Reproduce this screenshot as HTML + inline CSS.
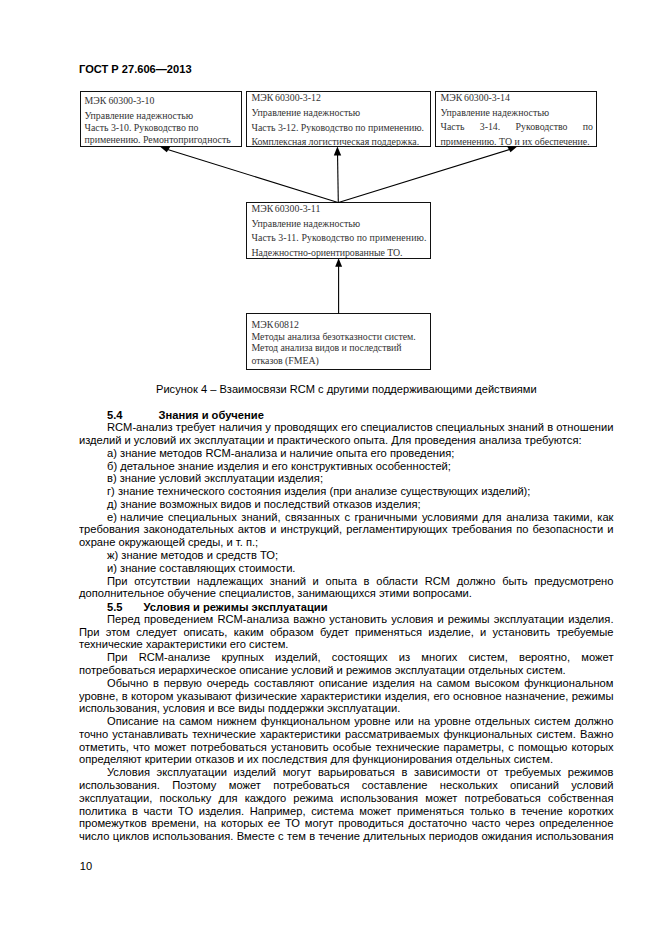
<!DOCTYPE html>
<html><head><meta charset="utf-8">
<style>
html,body{margin:0;padding:0;background:#fff;}
body{width:661px;height:936px;position:relative;overflow:hidden;}
.s{font-family:"Liberation Sans",sans-serif;color:#000;}
.hdr{position:absolute;left:79px;top:63px;font-size:11.1px;font-weight:bold;line-height:12.76px;white-space:nowrap;}
.box{position:absolute;border:1.2px solid #111;box-sizing:border-box;}
.bt{position:absolute;font-family:"Liberation Serif",serif;font-size:9.85px;color:#333;white-space:nowrap;line-height:12px;}
.cap{position:absolute;left:156px;top:382.5px;font-size:11.1px;line-height:12.76px;white-space:nowrap;}
.body{position:absolute;left:79px;top:408.4px;width:534.5px;font-size:11.17px;line-height:12.79px;}
.body div{white-space:nowrap;height:12.79px;}
.body .j{text-align:justify;text-align-last:justify;white-space:nowrap;overflow:hidden;}
.body .i{padding-left:28px;}
.b{font-weight:bold;position:relative;top:0.4px;}
.pg{position:absolute;left:79.8px;top:859.5px;font-size:11.1px;line-height:12.76px;}
</style></head><body>
<div class="s hdr">ГОСТ Р 27.606—2013</div>

<div class="box" style="left:80px;top:91px;width:161.5px;height:56px;"></div>
<div class="box" style="left:246px;top:91px;width:185px;height:56px;"></div>
<div class="box" style="left:435px;top:91px;width:162px;height:56px;"></div>
<div class="box" style="left:246px;top:202px;width:185px;height:57px;"></div>
<div class="box" style="left:246px;top:313px;width:185px;height:57px;"></div>

<svg style="position:absolute;left:0;top:0" width="661" height="400">
<g stroke="#000" stroke-width="1.1" fill="none">
<line x1="338" y1="202.5" x2="166" y2="149"/>
<line x1="338.3" y1="202.5" x2="337.5" y2="152"/>
<line x1="338.5" y1="202.5" x2="511" y2="149"/>
<line x1="338.6" y1="313.5" x2="338.6" y2="264"/>
</g>
<g fill="#000">
<polygon points="159.5,146.2 170.5,146.2 166.8,152.2"/>
<polygon points="337.4,146.6 333.8,155.6 341.2,155.6"/>
<polygon points="517.5,146.2 507,146.2 510.5,152.2"/>
<polygon points="338.6,258.3 335.2,266.8 342.1,266.8"/>
</g>
</svg>

<div class="bt" style="left:84.5px;top:94.9px;word-spacing:-0.4px;">МЭК 60300-3-10</div>
<div class="bt" style="left:84.5px;top:109.9px;">Управление надежностью</div>
<div class="bt" style="left:84.5px;top:122.2px;">Часть 3-10. Руководство по</div>
<div class="bt" style="left:84.5px;top:134.1px;">применению. Ремонтопригодность</div>

<div class="bt" style="left:251.5px;top:91.9px;word-spacing:-0.8px;">МЭК 60300-3-12</div>
<div class="bt" style="left:251.5px;top:106.9px;">Управление надежностью</div>
<div class="bt" style="left:251.5px;top:121.8px;">Часть 3-12. Руководство по применению.</div>
<div class="bt" style="left:251.5px;top:135.8px;">Комплексная логистическая поддержка.</div>

<div class="bt" style="left:440.5px;top:91.9px;word-spacing:-0.8px;">МЭК 60300-3-14</div>
<div class="bt" style="left:440.5px;top:107.1px;">Управление надежностью</div>
<div class="bt" style="left:440.5px;top:120.9px;width:152.5px;text-align:justify;text-align-last:justify;white-space:nowrap;">Часть 3-14. Руководство по</div>
<div class="bt" style="left:440.5px;top:135.9px;">применению. ТО и их обеспечение.</div>

<div class="bt" style="left:251.5px;top:202.9px;word-spacing:-1px;">МЭК 60300-3-11</div>
<div class="bt" style="left:251.5px;top:217.9px;">Управление надежностью</div>
<div class="bt" style="left:251.5px;top:232.4px;letter-spacing:0.074px;">Часть 3-11. Руководство по применению.</div>
<div class="bt" style="left:251.5px;top:246.9px;letter-spacing:-0.055px;">Надежностно-ориентированные ТО.</div>

<div class="bt" style="left:251.5px;top:318.9px;word-spacing:-1.5px;">МЭК 60812</div>
<div class="bt" style="left:251.5px;top:330.9px;">Методы анализа безотказности систем.</div>
<div class="bt" style="left:251.5px;top:342.3px;letter-spacing:-0.055px;">Метод анализа видов и последствий</div>
<div class="bt" style="left:251.5px;top:355px;letter-spacing:-0.05px;">отказов (FMEA)</div>

<div class="s cap">Рисунок 4 – Взаимосвязи RCM с другими поддерживающими действиями</div>

<div class="s body">
<div class="i b">5.4<span style="display:inline-block;width:36px"></span>Знания и обучение</div>
<div class="i j">RCM-анализ требует наличия у проводящих его специалистов специальных знаний в отношении</div>
<div>изделий и условий их эксплуатации и практического опыта. Для проведения анализа требуются:</div>
<div class="i">а) знание методов RCM-анализа и наличие опыта его проведения;</div>
<div class="i">б) детальное знание изделия и его конструктивных особенностей;</div>
<div class="i">в) знание условий эксплуатации изделия;</div>
<div class="i">г) знание технического состояния изделия (при анализе существующих изделий);</div>
<div class="i">д) знание возможных видов и последствий отказов изделия;</div>
<div class="i j"><span style="display:inline-block">е) наличие</span> специальных знаний, связанных с граничными условиями для анализа такими, как</div>
<div class="j">требования законодательных актов и инструкций, регламентирующих требования по безопасности и</div>
<div>охране окружающей среды, и т. п.;</div>
<div class="i">ж) знание методов и средств ТО;</div>
<div class="i">и) знание составляющих стоимости.</div>
<div class="i j">При отсутствии надлежащих знаний и опыта в области RCM должно быть предусмотрено</div>
<div>дополнительное обучение специалистов, занимающихся этими вопросами.</div>
<div class="i b">5.5<span style="display:inline-block;width:21px"></span>Условия и режимы эксплуатации</div>
<div class="i j">Перед проведением RCM-анализа важно установить условия и режимы эксплуатации изделия.</div>
<div class="j">При этом следует описать, каким образом будет применяться изделие, и установить требуемые</div>
<div>технические характеристики его систем.</div>
<div class="i j">При RCM-анализе крупных изделий, состоящих из многих систем, вероятно, может</div>
<div>потребоваться иерархическое описание условий и режимов эксплуатации отдельных систем.</div>
<div class="i j">Обычно в первую очередь составляют описание изделия на самом высоком функциональном</div>
<div class="j">уровне, в котором указывают физические характеристики изделия, его основное назначение, режимы</div>
<div>использования, условия и все виды поддержки эксплуатации.</div>
<div class="i j">Описание на самом нижнем функциональном уровне или на уровне отдельных систем должно</div>
<div class="j">точно устанавливать технические характеристики рассматриваемых функциональных систем. Важно</div>
<div class="j">отметить, что может потребоваться установить особые технические параметры, с помощью которых</div>
<div>определяют критерии отказов и их последствия для функционирования отдельных систем.</div>
<div class="i j">Условия эксплуатации изделий могут варьироваться в зависимости от требуемых режимов</div>
<div class="j">использования. Поэтому может потребоваться составление нескольких описаний условий</div>
<div class="j">эксплуатации, поскольку для каждого режима использования может потребоваться собственная</div>
<div class="j">политика в части ТО изделия. Например, система может применяться только в течение коротких</div>
<div class="j">промежутков времени, на которых ее ТО могут проводиться достаточно часто через определенное</div>
<div class="j">число циклов использования. Вместе с тем в течение длительных периодов ожидания использования</div>
</div>

<div class="s pg">10</div>
</body></html>
